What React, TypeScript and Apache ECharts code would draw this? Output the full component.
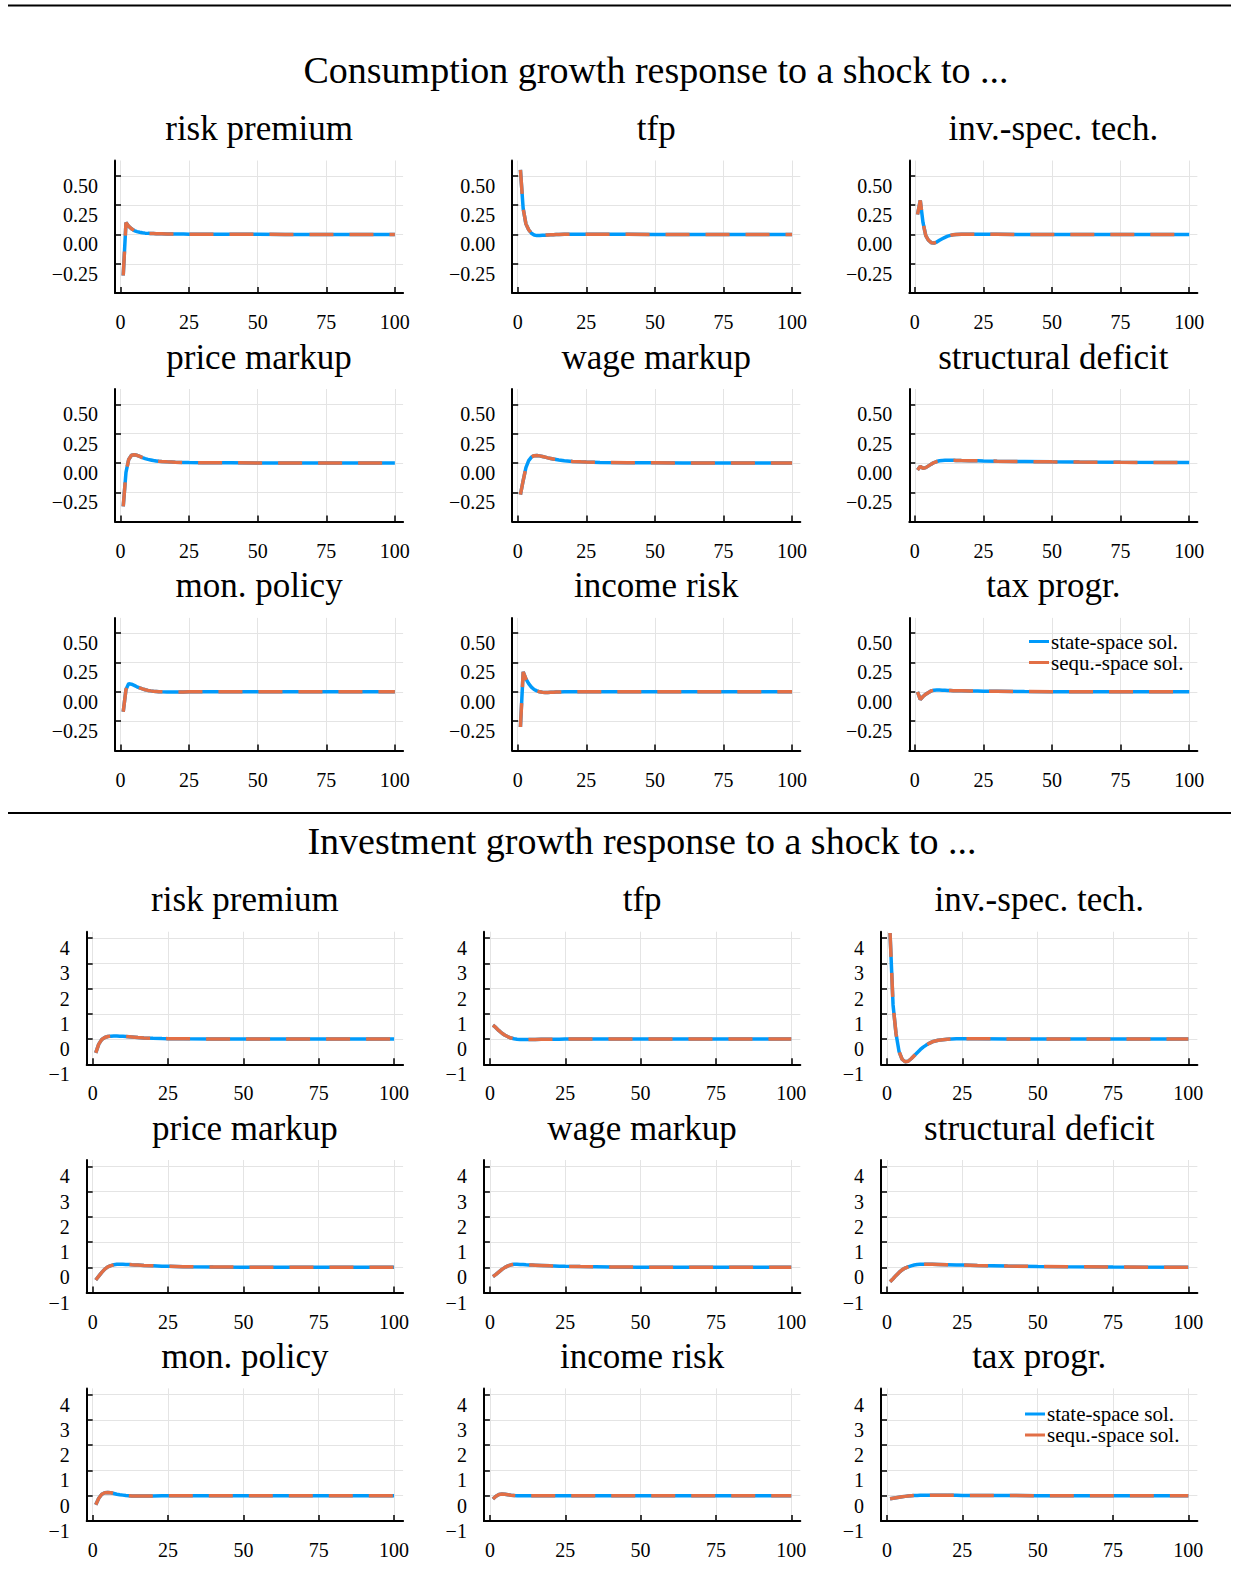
import React, { useEffect, useRef } from "react";
import * as echarts from "echarts";

// ---------- DATA ----------
const shockNames = [
  "risk premium", "tfp", "inv.-spec. tech.",
  "price markup", "wage markup", "structural deficit",
  "mon. policy", "income risk", "tax progr.",
];
const sectionTitles = [
  "Consumption growth response to a shock to ...",
  "Investment growth response to a shock to ...",
];
const seriesNames = ["state-space sol.", "sequ.-space sol."];

// horizon (quarters) at which responses are read
const steps = [1, 2, 3, 4, 5, 6, 7, 8, 9, 10, 11, 12, 13, 14, 15, 17, 20, 23, 25, 30, 40, 50, 60, 75, 100];

// consumption growth responses
const cRiskPremium = [-0.35, 0.10, 0.07, 0.048, 0.033, 0.024, 0.018, 0.014, 0.011, 0.009, 0.008, 0.007, 0.006, 0.005, 0.005, 0.004, 0.003, 0.003, 0.002, 0.002, 0.001, 0.001, 0, 0, 0];
const cTfp = [0.55, 0.22, 0.09, 0.04, 0.01, -0.005, -0.01, -0.01, -0.008, -0.006, -0.004, -0.003, -0.002, -0.001, 0, 0.001, 0.002, 0.002, 0.002, 0.001, 0.001, 0, 0, 0, 0];
const cInvTech = [0.17, 0.29, 0.1, -0.01, -0.05, -0.07, -0.073, -0.065, -0.05, -0.037, -0.025, -0.015, -0.008, -0.003, 0, 0.002, 0.002, 0.002, 0.001, 0.001, 0, 0, 0, 0, 0];
const cPriceMarkup = [-0.37, -0.08, 0.03, 0.065, 0.07, 0.065, 0.055, 0.045, 0.037, 0.03, 0.025, 0.02, 0.017, 0.014, 0.012, 0.009, 0.006, 0.004, 0.003, 0.002, 0.001, 0, 0, 0, 0];
const cWageMarkup = [-0.27, -0.15, -0.04, 0.02, 0.05, 0.062, 0.064, 0.06, 0.055, 0.049, 0.043, 0.038, 0.033, 0.029, 0.025, 0.019, 0.013, 0.009, 0.007, 0.004, 0.002, 0.001, 0, 0, 0];
const cStructDeficit = [-0.06, -0.03, -0.045, -0.04, -0.025, -0.01, 0.003, 0.012, 0.018, 0.021, 0.022, 0.022, 0.022, 0.022, 0.021, 0.02, 0.019, 0.018, 0.017, 0.015, 0.012, 0.009, 0.007, 0.005, 0.003];
const cMonPolicy = [-0.17, 0.02, 0.07, 0.065, 0.055, 0.043, 0.033, 0.025, 0.018, 0.012, 0.008, 0.005, 0.003, 0.001, 0, -0.001, -0.001, -0.001, 0, 0, 0, 0, 0, 0, 0];
const cIncomeRisk = [-0.3, 0.17, 0.11, 0.07, 0.04, 0.02, 0.008, 0, -0.004, -0.005, -0.005, -0.004, -0.003, -0.002, -0.001, 0, 0, 0, 0, 0, 0, 0, 0, 0, 0];
const cTaxProgr = [0, -0.065, -0.04, -0.02, -0.005, 0.008, 0.014, 0.015, 0.015, 0.014, 0.013, 0.012, 0.011, 0.01, 0.01, 0.009, 0.007, 0.006, 0.005, 0.004, 0.002, 0.001, 0.001, 0, 0];

// investment growth responses
const iRiskPremium = [-0.55, -0.2, -0.02, 0.06, 0.1, 0.115, 0.12, 0.12, 0.115, 0.11, 0.1, 0.09, 0.08, 0.07, 0.06, 0.045, 0.03, 0.02, 0.015, 0.01, 0.005, 0.002, 0.001, 0, 0];
const iTfp = [0.55, 0.45, 0.33, 0.23, 0.15, 0.09, 0.04, 0.01, -0.01, -0.02, -0.02, -0.02, -0.018, -0.016, -0.014, -0.01, -0.006, -0.004, -0.003, -0.001, 0, 0, 0, 0, 0];
const iInvTech = [4.2, 1.35, 0.2, -0.5, -0.8, -0.9, -0.88, -0.78, -0.66, -0.54, -0.42, -0.32, -0.24, -0.17, -0.11, -0.05, -0.01, 0.01, 0.012, 0.01, 0.005, 0.002, 0.001, 0, 0];
const iPriceMarkup = [-0.5, -0.35, -0.2, -0.07, 0.02, 0.07, 0.1, 0.12, 0.125, 0.12, 0.115, 0.11, 0.1, 0.095, 0.09, 0.075, 0.06, 0.045, 0.04, 0.028, 0.015, 0.008, 0.004, 0.002, 0];
const iWageMarkup = [-0.37, -0.28, -0.18, -0.08, 0, 0.06, 0.1, 0.12, 0.12, 0.115, 0.11, 0.1, 0.095, 0.09, 0.085, 0.075, 0.06, 0.048, 0.04, 0.03, 0.016, 0.008, 0.004, 0.002, 0];
const iStructDeficit = [-0.57, -0.45, -0.32, -0.2, -0.1, -0.03, 0.02, 0.06, 0.09, 0.11, 0.12, 0.125, 0.125, 0.122, 0.12, 0.115, 0.105, 0.095, 0.09, 0.075, 0.05, 0.035, 0.025, 0.012, 0.003];
const iMonPolicy = [-0.36, -0.1, 0.06, 0.12, 0.13, 0.12, 0.09, 0.06, 0.04, 0.025, 0.01, 0, -0.01, -0.015, -0.015, -0.012, -0.008, -0.005, -0.004, -0.002, 0, 0, 0, 0, 0];
const iIncomeRisk = [-0.13, -0.02, 0.05, 0.07, 0.06, 0.04, 0.02, 0.01, 0.004, 0, -0.002, -0.003, -0.003, -0.002, -0.002, -0.001, 0, 0, 0, 0, 0, 0, 0, 0, 0];
const iTaxProgr = [-0.12, -0.1, -0.08, -0.06, -0.04, -0.025, -0.01, 0, 0.008, 0.013, 0.016, 0.018, 0.019, 0.02, 0.02, 0.019, 0.017, 0.015, 0.014, 0.011, 0.007, 0.004, 0.002, 0.001, 0];

const consumptionPanels = [cRiskPremium, cTfp, cInvTech, cPriceMarkup, cWageMarkup, cStructDeficit, cMonPolicy, cIncomeRisk, cTaxProgr];
const investmentPanels = [iRiskPremium, iTfp, iInvTech, iPriceMarkup, iWageMarkup, iStructDeficit, iMonPolicy, iIncomeRisk, iTaxProgr];

const xTicks = [0, 25, 50, 75, 100];
const cYTicks = [-0.25, 0, 0.25, 0.5];
const iYTicks = [-1, 0, 1, 2, 3, 4];

// ---------- STYLE / LAYOUT ----------
const FONT = '"Liberation Serif", "DejaVu Serif", serif';
const BLUE = "#009AFA";
const ORANGE = "#E26F46";

const sections = [
  {
    panels: consumptionPanels,
    yMin: -0.5, yMax: 0.63, yTicks: cYTicks,
    fmt: (v: number) => (v < 0 ? "\u2212" : "") + Math.abs(v).toFixed(2),
    lefts: [115, 512.2, 909.3], width: 288.1,
    tops: [160.5, 389, 617.9],
    title: { x: 656, y: 69.5 },
    legend: { left: 1029, top: 631 },
  },
  {
    panels: investmentPanels,
    yMin: -1, yMax: 4.25, yTicks: iYTicks,
    fmt: (v: number) => (v < 0 ? "\u2212" : "") + String(Math.abs(v)),
    lefts: [86.7, 483.9, 881], width: 316.4,
    tops: [931.7, 1160, 1388.4],
    title: { x: 642, y: 841 },
    legend: { left: 1025, top: 1403.5 },
  },
];
const GRID_H = 132.6;

function buildOption() {
  const grid: any[] = [];
  const xAxis: any[] = [];
  const yAxis: any[] = [];
  const series: any[] = [];
  const graphic: any[] = [];
  const legend: any[] = [];

  graphic.push({ type: "line", shape: { x1: 8, y1: 5.5, x2: 1231, y2: 5.5 }, style: { stroke: "#000", lineWidth: 2 }, z: 10 });
  graphic.push({ type: "line", shape: { x1: 8, y1: 813, x2: 1231, y2: 813 }, style: { stroke: "#000", lineWidth: 2 }, z: 10 });

  sections.forEach((sec, s) => {
    graphic.push({
      type: "text", x: sec.title.x, y: sec.title.y, z: 10,
      style: { text: sectionTitles[s], fill: "#000", font: `38px ${FONT}`, textAlign: "center", textVerticalAlign: "middle", align: "center", verticalAlign: "middle" },
    });
    legend.push({
      data: seriesNames, orient: "vertical", left: sec.legend.left, top: sec.legend.top,
      itemWidth: 20, itemHeight: 3, icon: "rect", itemGap: 0, selectedMode: false, padding: 0,
      textStyle: { fontFamily: FONT, fontSize: 21, color: "#000", lineHeight: 20, padding: [0, 0, 0, -3] },
    });
    sec.panels.forEach((ys, p) => {
      const r = Math.floor(p / 3), c = p % 3;
      const idx = grid.length;
      const left = sec.lefts[c], top = sec.tops[r];
      grid.push({ left, top, width: sec.width, height: GRID_H });
      graphic.push({
        type: "text", x: left + sec.width / 2, y: top - 32, z: 10,
        style: { text: shockNames[p], fill: "#000", font: `35px ${FONT}`, textAlign: "center", textVerticalAlign: "middle", align: "center", verticalAlign: "middle" },
      });
      xAxis.push({
        type: "value", gridIndex: idx, min: -2, max: 103,
        axisLine: { show: true, onZero: false, lineStyle: { color: "#000", width: 2 } },
        axisTick: { show: true, inside: true, length: 6, customValues: xTicks, lineStyle: { color: "#000", width: 1.5 } },
        axisLabel: { customValues: xTicks, margin: 19, fontFamily: FONT, fontSize: 20, color: "#000" },
        splitLine: { show: true, lineStyle: { color: "#e4e4e4", width: 1 } },
      });
      yAxis.push({
        type: "value", gridIndex: idx, min: sec.yMin, max: sec.yMax,
        axisLine: { show: true, onZero: false, lineStyle: { color: "#000", width: 2 } },
        axisTick: { show: true, inside: true, length: 6, customValues: sec.yTicks, lineStyle: { color: "#000", width: 1.5 } },
        axisLabel: { customValues: sec.yTicks, formatter: sec.fmt, margin: 17, fontFamily: FONT, fontSize: 20, color: "#000", verticalAlign: "top", lineHeight: 20 },
        splitLine: { show: true, lineStyle: { color: "#e4e4e4", width: 1 } },
      });
      const data = steps.map((x, k) => [x, ys[k]]);
      series.push({
        type: "line", name: seriesNames[0], xAxisIndex: idx, yAxisIndex: idx, data,
        symbol: "none", lineStyle: { color: BLUE, width: 3.5 }, itemStyle: { color: BLUE }, z: 2,
      });
      series.push({
        type: "line", name: seriesNames[1], xAxisIndex: idx, yAxisIndex: idx, data,
        symbol: "none", lineStyle: { color: ORANGE, width: 3.5, type: [24, 16] }, itemStyle: { color: ORANGE }, z: 3,
      });
    });
  });

  return { animation: false, backgroundColor: "#fff", grid, xAxis, yAxis, series, graphic, legend };
}

export default function App() {
  const ref = useRef<HTMLDivElement>(null);
  useEffect(() => {
    if (!ref.current) return;
    const chart = echarts.init(ref.current, undefined, { renderer: "svg" });
    chart.setOption(buildOption() as any);
    return () => chart.dispose();
  }, []);
  return <div ref={ref} style={{ position: "absolute", left: 0, top: 0, width: 1233, height: 1579, background: "#fff" }} />;
}
